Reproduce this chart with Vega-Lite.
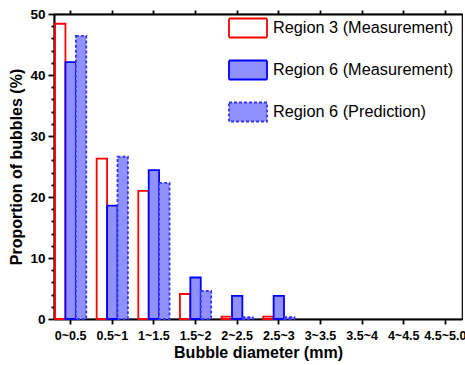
{
  "$schema": "https://vega.github.io/schema/vega-lite/v6.json",
  "width": 408,
  "height": 305,
  "autosize": {"type": "none"},
  "padding": {"left": 54, "top": 14, "right": 3, "bottom": 46},
  "config": {
    "font": "Liberation Sans",
    "view": {"stroke": "black", "strokeWidth": 1.2},
    "axis": {"domainColor": "black", "tickColor": "black", "labelColor": "black", "titleColor": "black", "domainWidth": 2, "tickWidth": 1.8, "grid": false}
  },
  "data": {
    "values": [
      {"bin": "0~0.5", "series": "Region 3 (Measurement)", "v": 48.4},
      {"bin": "0~0.5", "series": "Region 6 (Measurement)", "v": 42.1},
      {"bin": "0~0.5", "series": "Region 6 (Prediction)", "v": 46.4},
      {"bin": "0.5~1", "series": "Region 3 (Measurement)", "v": 26.3},
      {"bin": "0.5~1", "series": "Region 6 (Measurement)", "v": 18.6},
      {"bin": "0.5~1", "series": "Region 6 (Prediction)", "v": 26.6},
      {"bin": "1~1.5", "series": "Region 3 (Measurement)", "v": 21.0},
      {"bin": "1~1.5", "series": "Region 6 (Measurement)", "v": 24.4},
      {"bin": "1~1.5", "series": "Region 6 (Prediction)", "v": 22.3},
      {"bin": "1.5~2", "series": "Region 3 (Measurement)", "v": 4.1},
      {"bin": "1.5~2", "series": "Region 6 (Measurement)", "v": 6.8},
      {"bin": "1.5~2", "series": "Region 6 (Prediction)", "v": 4.6},
      {"bin": "2~2.5", "series": "Region 3 (Measurement)", "v": 0.4},
      {"bin": "2~2.5", "series": "Region 6 (Measurement)", "v": 3.8},
      {"bin": "2~2.5", "series": "Region 6 (Prediction)", "v": 0.3},
      {"bin": "2.5~3", "series": "Region 3 (Measurement)", "v": 0.4},
      {"bin": "2.5~3", "series": "Region 6 (Measurement)", "v": 3.8},
      {"bin": "2.5~3", "series": "Region 6 (Prediction)", "v": 0.3},
      {"bin": "3~3.5", "series": "Region 3 (Measurement)", "v": 0},
      {"bin": "3~3.5", "series": "Region 6 (Measurement)", "v": 0},
      {"bin": "3~3.5", "series": "Region 6 (Prediction)", "v": 0},
      {"bin": "3.5~4", "series": "Region 3 (Measurement)", "v": 0},
      {"bin": "3.5~4", "series": "Region 6 (Measurement)", "v": 0},
      {"bin": "3.5~4", "series": "Region 6 (Prediction)", "v": 0},
      {"bin": "4~4.5", "series": "Region 3 (Measurement)", "v": 0},
      {"bin": "4~4.5", "series": "Region 6 (Measurement)", "v": 0},
      {"bin": "4~4.5", "series": "Region 6 (Prediction)", "v": 0},
      {"bin": "4.5~5.0", "series": "Region 3 (Measurement)", "v": 0},
      {"bin": "4.5~5.0", "series": "Region 6 (Measurement)", "v": 0},
      {"bin": "4.5~5.0", "series": "Region 6 (Prediction)", "v": 0}
    ]
  },
  "resolve": {"axis": {"x": "independent"}},
  "layer": [
    {
      "mark": {"type": "bar", "strokeWidth": 1.8},
      "encoding": {
        "x": {
          "field": "bin", "type": "nominal",
          "sort": ["0~0.5", "0.5~1", "1~1.5", "1.5~2", "2~2.5", "2.5~3", "3~3.5", "3.5~4", "4~4.5", "4.5~5.0"],
          "scale": {"paddingInner": 0.25, "paddingOuter": 0.025},
          "axis": {"orient": "bottom", "title": "Bubble diameter (mm)", "labelAngle": 0, "labelFontWeight": "bold", "labelFontSize": 12.5, "tickSize": 5, "labelPadding": 5, "titleFontSize": 16, "titleFontWeight": "bold", "titlePadding": 3}
        },
        "xOffset": {"field": "series", "type": "nominal", "sort": ["Region 3 (Measurement)", "Region 6 (Measurement)", "Region 6 (Prediction)"], "scale": {"paddingInner": 0, "paddingOuter": 0}},
        "y": {
          "field": "v", "type": "quantitative",
          "scale": {"domain": [0, 50], "nice": false},
          "axis": {
            "title": "Proportion of bubbles (%)",
            "values": [0, 2, 4, 6, 8, 10, 12, 14, 16, 18, 20, 22, 24, 26, 28, 30, 32, 34, 36, 38, 40, 42, 44, 46, 48, 50],
            "labelExpr": "datum.value % 10 === 0 ? datum.label : ''",
            "tickSize": {"condition": {"test": "datum.value % 10 === 0", "value": 6}, "value": 3},
            "labelFontWeight": "bold", "labelFontSize": 13.5, "labelPadding": 3,
            "titleFontSize": 16, "titleFontWeight": "bold", "titlePadding": 5
          }
        },
        "opacity": {"condition": {"test": "datum.v === 0", "value": 0}, "value": 1},
        "fill": {
          "field": "series", "type": "nominal",
          "scale": {"domain": ["Region 3 (Measurement)", "Region 6 (Measurement)", "Region 6 (Prediction)"], "range": ["#ffffff", "#9090ff", "#9090ff"]},
          "legend": {
            "title": null, "orient": "none", "legendX": 174, "legendY": -6, "padding": 0,
            "symbolType": "M-1,-0.5H1V0.5H-1Z", "symbolSize": 1444, "symbolStrokeWidth": 1.8, "symbolOpacity": 1,
            "labelFontSize": 16.3, "labelOffset": 5, "rowPadding": 8, "labelColor": "black", "labelLimit": 300
          }
        },
        "stroke": {
          "field": "series", "type": "nominal",
          "scale": {"domain": ["Region 3 (Measurement)", "Region 6 (Measurement)", "Region 6 (Prediction)"], "range": ["#ff0000", "#0000ff", "#3333ff"]}
        },
        "strokeDash": {
          "field": "series", "type": "nominal",
          "scale": {"domain": ["Region 3 (Measurement)", "Region 6 (Measurement)", "Region 6 (Prediction)"], "range": [[1, 0], [1, 0], [3, 2]]}
        }
      }
    },
    {
      "mark": {"type": "tick", "opacity": 0},
      "encoding": {
        "x": {
          "field": "bin", "type": "nominal",
          "sort": ["0~0.5", "0.5~1", "1~1.5", "1.5~2", "2~2.5", "2.5~3", "3~3.5", "3.5~4", "4~4.5", "4.5~5.0"],
          "axis": {"orient": "top", "title": null, "labels": false, "tickSize": 4}
        }
      }
    }
  ]
}
